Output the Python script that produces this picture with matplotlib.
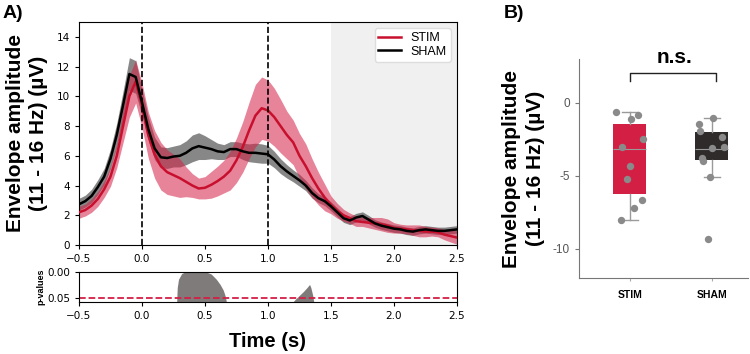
import matplotlib
matplotlib.use('Agg')
import matplotlib.pyplot as plt
import numpy as np

# ---- data ----
time = np.round(np.arange(-0.5, 2.5001, 0.05), 2)

stim_mean = [2.2, 2.35, 2.65, 3.1, 3.75, 4.6, 6.0, 8.0, 10.0, 11.0,
             9.4, 7.4, 6.1, 5.3, 4.9, 4.7, 4.5, 4.25, 4.0, 3.8,
             3.85, 4.05, 4.3, 4.6, 5.0, 5.7, 6.6, 7.7, 8.7, 9.2,
             9.05, 8.6, 8.0, 7.4, 6.9, 6.0, 5.3, 4.5, 3.8, 3.2,
             2.7, 2.3, 2.0, 1.8, 1.6, 1.55, 1.5, 1.45, 1.4, 1.3,
             1.15, 1.1, 1.05, 1.0, 0.95, 0.9, 0.9, 0.85, 0.7, 0.6, 0.5]
stim_sem = [0.4, 0.4, 0.45, 0.5, 0.55, 0.65, 0.8, 1.1, 1.4, 1.45,
            1.5, 1.55, 1.6, 1.6, 1.5, 1.4, 1.3, 1.0, 0.8, 0.7,
            0.75, 0.9, 1.0, 1.1, 1.3, 1.5, 1.7, 1.9, 2.1, 2.1,
            2.05, 1.95, 1.8, 1.6, 1.5, 1.5, 1.5, 1.3, 1.1, 0.9,
            0.6, 0.5, 0.4, 0.35, 0.35, 0.3, 0.35, 0.4, 0.45, 0.45,
            0.35, 0.3, 0.3, 0.35, 0.4, 0.35, 0.3, 0.3, 0.35, 0.4, 0.45]

sham_mean = [2.74, 2.95, 3.3, 3.9, 4.6, 5.8, 7.4, 9.4, 11.5, 11.3,
             9.6, 7.8, 6.5, 5.9, 5.85, 5.95, 6.0, 6.2, 6.5, 6.65,
             6.55, 6.45, 6.3, 6.25, 6.45, 6.45, 6.3, 6.2, 6.2, 6.15,
             6.1, 5.75, 5.3, 4.95, 4.65, 4.35, 4.0, 3.5, 3.15, 2.95,
             2.6, 2.2, 1.8, 1.65, 1.85, 1.95, 1.7, 1.45, 1.3, 1.2,
             1.1, 1.05, 0.95, 0.9, 1.0, 1.05, 1.0, 0.95, 0.95, 1.0, 1.05]
sham_sem = [0.4, 0.4, 0.45, 0.5, 0.55, 0.65, 0.8, 0.95, 1.1, 1.1,
            0.9, 0.8, 0.75, 0.7, 0.7, 0.7, 0.75, 0.8, 0.9, 0.9,
            0.8, 0.65, 0.55, 0.5, 0.5, 0.5, 0.55, 0.6, 0.65, 0.65,
            0.6, 0.55, 0.5, 0.45, 0.4, 0.4, 0.35, 0.35, 0.3, 0.3,
            0.3, 0.3, 0.28, 0.28, 0.28, 0.28, 0.28, 0.25, 0.25, 0.25,
            0.25, 0.25, 0.25, 0.25, 0.25, 0.25, 0.25, 0.25, 0.25, 0.25, 0.25]

# p-value clusters (time, p)
p_time1 = [0.275, 0.28, 0.29, 0.315, 0.34, 0.51, 0.55, 0.59, 0.62, 0.645, 0.66, 0.672]
p_val1 = [0.06, 0.03, 0.014, 0.003, 0.0, 0.0, 0.004, 0.014, 0.024, 0.035, 0.046, 0.06]
p_time2 = [1.19, 1.22, 1.25, 1.28, 1.31, 1.33, 1.34, 1.355, 1.365]
p_val2 = [0.06, 0.052, 0.045, 0.038, 0.03, 0.024, 0.03, 0.045, 0.06]

# per-subject values for panel B
groups = ['STIM', 'SHAM']
stim_vals = [-0.6, -1.1, -0.82, -3.0, -2.5, -4.3, -5.2, -6.65, -7.2, -8.0]
stim_jit = [-0.17, 0.02, 0.1, -0.1, 0.16, 0.0, -0.04, 0.15, 0.05, -0.11]
sham_vals = [-1.07, -1.46, -1.9, -2.37, -3.08, -3.04, -3.79, -4.0, -5.09, -9.3]
sham_jit = [0.01, -0.15, -0.14, 0.13, 0.0, 0.15, -0.12, -0.11, -0.02, -0.05]
# box stats as drawn (q1, median, q3, whisker low, whisker high)
stim_box = (-6.25, -3.15, -1.46, -8.0, -0.6)
sham_box = (-3.95, -3.17, -2.03, -5.09, -1.07)

red = '#d41f45'
sans = ['Liberation Sans', 'DejaVu Sans']

fig = plt.figure(figsize=(7.5, 3.54), dpi=100)
ax = fig.add_axes([0.1053, 0.3079, 0.504, 0.63])
axp = fig.add_axes([0.1053, 0.1469, 0.504, 0.0847])
axb = fig.add_axes([0.772, 0.2147, 0.225, 0.6186])

# ---- panel A ----
stim_mean = np.array(stim_mean)
sham_mean = np.array(sham_mean)
ax.axvspan(1.5, 2.5, color='#f0f0f0', zorder=0, lw=0)
ax.fill_between(time, sham_mean - sham_sem, sham_mean + sham_sem,
                color='#555555', alpha=0.7, lw=0, zorder=1)
ax.fill_between(time, stim_mean - stim_sem, stim_mean + stim_sem,
                color=red, alpha=0.55, lw=0, zorder=2)
ax.plot(time, stim_mean, color='#c8102e', lw=1.8, label='STIM', zorder=3)
ax.plot(time, sham_mean, color='black', lw=1.8, label='SHAM', zorder=4)
ax.axvline(0, color='black', ls='--', lw=1.2, zorder=5)
ax.axvline(1, color='black', ls='--', lw=1.2, zorder=5)
ax.set_xlim(-0.5, 2.5)
ax.set_ylim(0, 15)
ax.set_xticks(np.arange(-0.5, 2.51, 0.5))
ax.set_yticks(np.arange(0, 15, 2))
ax.tick_params(labelsize=7.5, length=3)
leg = ax.legend(loc='upper right', handlelength=1.8,
                prop={'family': sans, 'size': 9}, borderpad=0.3,
                labelspacing=0.15, framealpha=1, edgecolor='#dddddd')
ax.set_ylabel('Envelope amplitude\n(11 - 16 Hz) (µV)', fontsize=15,
              fontweight='bold', family=sans, labelpad=6, linespacing=1.3)

axp.fill_between(p_time1, p_val1, 0.06, color='#7f7b7b', lw=0)
axp.fill_between(p_time2, p_val2, 0.06, color='#7f7b7b', lw=0)
axp.axhline(0.05, color=red, ls='--', lw=1.3)
axp.set_xlim(-0.5, 2.5)
axp.set_ylim(0.058, 0)
axp.set_xticks(np.arange(-0.5, 2.51, 0.5))
axp.set_yticks([0.0, 0.05])
axp.set_yticklabels(['0.00', '0.05'])
axp.tick_params(labelsize=7.5, length=3)
axp.set_ylabel('p-values', fontsize=6.5, fontweight='bold', family=sans, labelpad=1)
axp.set_xlabel('Time (s)', fontsize=14.5, fontweight='bold', family=sans, labelpad=8)

# ---- panel B ----
stats = []
for name, b in zip(groups, [stim_box, sham_box]):
    stats.append({'label': name, 'q1': b[0], 'med': b[1], 'q3': b[2],
                  'whislo': b[3], 'whishi': b[4], 'fliers': []})
bp = axb.bxp(stats, positions=[0, 1], widths=0.4, patch_artist=True,
             showfliers=False,
             whiskerprops={'color': '#9a9a9a', 'lw': 1},
             capprops={'color': '#9a9a9a', 'lw': 1},
             medianprops={'color': '#9a9a9a', 'lw': 0.8},
             boxprops={'lw': 0})
for patch, c in zip(bp['boxes'], [red, '#2f2b2b']):
    patch.set_facecolor(c)
    patch.set_edgecolor(c)
for cap in bp['caps']:
    x0, x1 = cap.get_xdata()
    xc = (x0 + x1) / 2
    cap.set_xdata([xc - 0.1, xc + 0.1])

axb.scatter(np.array(stim_jit), stim_vals, s=28, color='#8a8a8a', zorder=5, lw=0)
axb.scatter(1 + np.array(sham_jit), sham_vals, s=28, color='#8a8a8a', zorder=5, lw=0)

axb.set_xlim(-0.62, 1.44)
axb.set_ylim(-12, 3)
axb.set_yticks([-10, -5, 0])
axb.set_yticklabels(['-10', '-5', '0'], family=sans, fontsize=8.5, color='#555555')
axb.set_xticks([0, 1])
axb.set_xticklabels(groups, family=sans, fontsize=7.5, fontweight='bold')
axb.tick_params(axis='x', length=2, color='#aaaaaa', pad=7)
axb.tick_params(axis='y', length=3, color='#777777')
for s in ['top', 'right']:
    axb.spines[s].set_visible(False)
for s in ['left', 'bottom']:
    axb.spines[s].set_color('#777777')
axb.set_ylabel('Envelope amplitude\n(11 - 16 Hz) (µV)', fontsize=15,
               fontweight='bold', family=sans, labelpad=6, linespacing=1.3)

# n.s. bracket
axb.plot([0, 0, 1.05, 1.05], [1.5, 2.07, 2.07, 1.5], color='#222222', lw=1, clip_on=False)
axb.text(0.55, 2.45, 'n.s.', ha='center', va='bottom', fontsize=15,
         fontweight='bold', family=sans, clip_on=False)

fig.text(0.003, 0.963, 'A)', fontsize=14, fontweight='bold', family=sans, va='center')
fig.text(0.672, 0.963, 'B)', fontsize=14, fontweight='bold', family=sans, va='center')

fig.savefig('out.png', dpi=100)
